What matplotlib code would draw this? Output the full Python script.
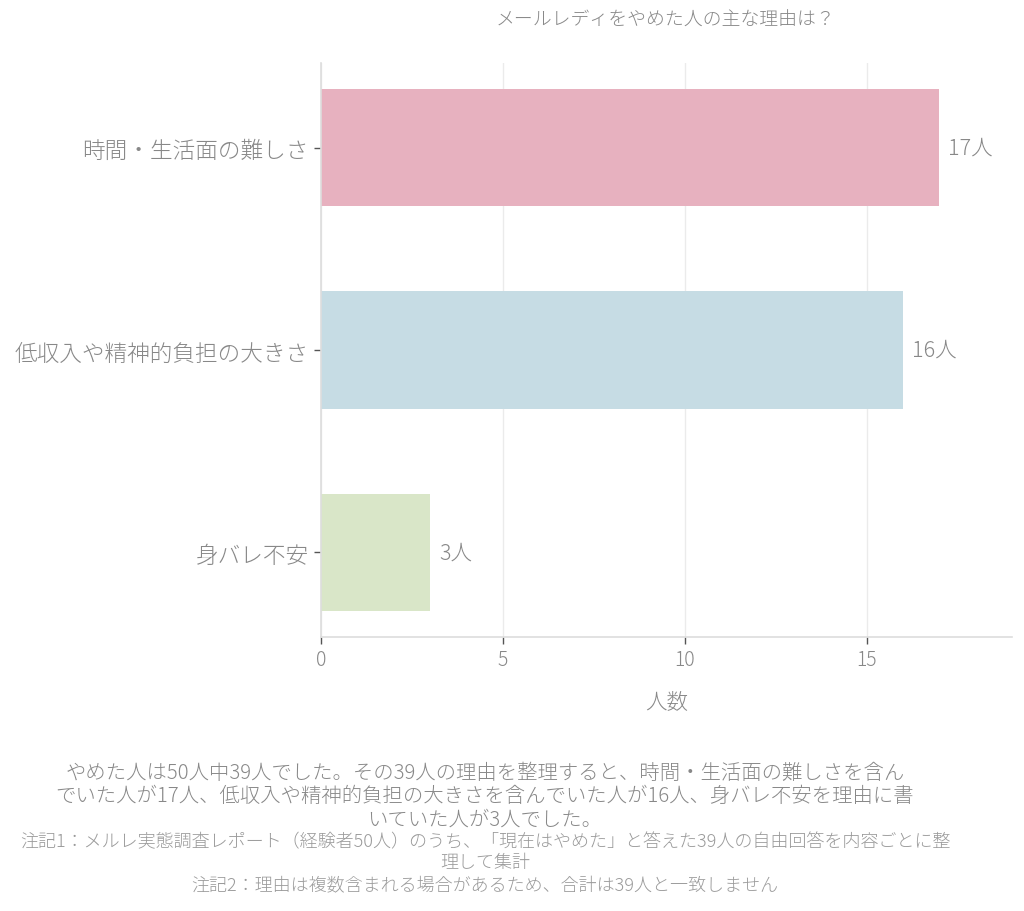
import matplotlib
matplotlib.use("Agg")
import matplotlib.pyplot as plt

categories = ["時間・生活面の難しさ", "低収入や精神的負担の大きさ", "身バレ不安"]
values = [17, 16, 3]
colors = ["#e7b1bf", "#c6dce4", "#d9e6c8"]
x_ticks = [0, 5, 10, 15]
title = "メールレディをやめた人の主な理由は？"
xlabel = "人数"
summary_lines = [
    "やめた人は50人中39人でした。その39人の理由を整理すると、時間・生活面の難しさを含ん",
    "でいた人が17人、低収入や精神的負担の大きさを含んでいた人が16人、身バレ不安を理由に書",
    "いていた人が3人でした。",
]
note_lines = [
    "注記1：メルレ実態調査レポート（経験者50人）のうち、「現在はやめた」と答えた39人の自由回答を内容ごとに整",
    "理して集計",
    "注記2：理由は複数含まれる場合があるため、合計は39人と一致しません",
]

plt.rcParams["font.family"] = ["Noto Sans CJK JP", "DejaVu Sans"]
TXT = "#888888"

fig = plt.figure(figsize=(10.24, 9.12), dpi=100)
ax = fig.add_axes([321/1024, 1-638/912, (1012-321)/1024, (638-64)/912])

y = list(range(len(categories)))
ax.barh(y, values, height=0.58, color=colors, zorder=2)
for yi, v in zip(y, values):
    ax.text(v + 0.25, yi, f"{v}人", va="center", ha="left", fontsize=15.5,
            color=TXT, fontweight="light")

ax.set_yticks(y)
ax.set_yticklabels(categories, fontsize=16.3, color=TXT, fontweight="light")
ax.set_ylim(2.42, -0.42)
ax.set_xlim(0, 19.0)
ax.set_xticks(x_ticks)
ax.set_xticklabels([str(t) for t in x_ticks], fontsize=14, color=TXT, fontweight="light")
ax.set_xlabel(xlabel, fontsize=15.5, color=TXT, labelpad=14, fontweight="light")
ax.xaxis.grid(True, color="#ebebeb", linewidth=1, zorder=0)
ax.set_axisbelow(True)
for s in ["top", "right"]:
    ax.spines[s].set_visible(False)
for s in ["left", "bottom"]:
    ax.spines[s].set_color("#dddddd")
    ax.spines[s].set_linewidth(1.2)
ax.tick_params(axis="both", colors="#555555", length=5, width=1, pad=4)
for lab in ax.get_xticklabels() + ax.get_yticklabels():
    lab.set_color(TXT)

fig.text(666/1024, 1-21/912, title, ha="center", va="center", fontsize=13.6,
         color=TXT, fontweight="light")

ys = [773, 797, 820]
for line, yy in zip(summary_lines, ys):
    fig.text(485/1024, 1-yy/912, line, ha="center", va="center", fontsize=14.65,
             color=TXT, fontweight="light")
ys2 = [842, 863, 886]
for line, yy in zip(note_lines, ys2):
    fig.text(485/1024, 1-yy/912, line, ha="center", va="center", fontsize=13.0,
             color="#9a9a9a", fontweight="light")

fig.savefig("out.png", dpi=100, facecolor="white")
